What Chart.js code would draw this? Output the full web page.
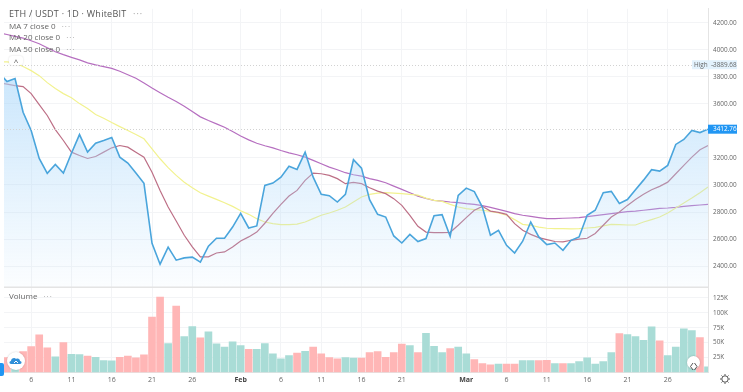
<!DOCTYPE html>
<html>
<head>
<meta charset="utf-8">
<title>ETH / USDT</title>
<script src="https://cdn.jsdelivr.net/npm/chart.js@4/dist/chart.umd.js"></script>
<style>
    html, body { margin: 0; padding: 0; background: #fff; overflow: hidden; }
    #wrap { position: relative; width: 743px; height: 392px; font-family: "Open Sans", sans-serif; }
    canvas { position: absolute; left: 0; top: 0; }
    .t { position: absolute; white-space: nowrap; color: #666; font-size: 8px; line-height: 10px; }
    .t i { font-style: normal; color: #999; margin-left: 4px; letter-spacing: 1px; }
    #title { left: 9px; top: 9px; font-size: 9px; color: #555; letter-spacing: .25px; }
    .btn { position: absolute; background: #fff; border-radius: 3px; box-shadow: 0 0 2px rgba(0,0,0,.15); text-align: center; color: #555; }
</style>
</head>
<body>
<div id="wrap">
    <canvas id="chart" width="743" height="392"></canvas>
    <div class="t" id="title">ETH / USDT · 1D · WhiteBIT <i>···</i></div>
    <div class="t" style="left:9px;top:21px">MA 7 close 0 <i>···</i></div>
    <div class="t" style="left:9px;top:32px">MA 20 close 0 <i>···</i></div>
    <div class="t" style="left:9px;top:44px">MA 50 close 0 <i>···</i></div>
    <div class="btn" style="left:9px;top:56px;width:14px;height:9px;font-size:8px;line-height:11px">^</div>
    <div class="t" style="left:9px;top:291px">Volume <i>···</i></div>
    <div style="position:absolute;left:0;top:363px;width:4px;height:13px;background:#2196f3;border-radius:0 2px 2px 0"></div>
    <div style="position:absolute;left:7px;top:352px;width:18px;height:18px;border-radius:50%;background:#fff;box-shadow:0 0 2px rgba(0,0,0,.2)">
        <svg width="18" height="18" viewBox="0 0 18 18"><path d="M4 12c-2 0-2-3 0-3 0-3 4-4 5-2 2-1 4 0 4 2 2 0 2 3 0 3z" fill="#2f8fd8"/><path d="M7 11l2-2 2 2" stroke="#fff" fill="none"/></svg>
    </div>
    <div style="position:absolute;left:687px;top:356px;width:13px;height:13px;border-radius:50%;background:#fff;box-shadow:0 0 2px rgba(0,0,0,.25)">
        <svg width="13" height="13" viewBox="0 0 13 13"><path d="M6 3L3.5 6.500L6 10M7.500 3L10 6.500L7.500 10" stroke="#555" fill="none"/></svg>
    </div>
    <svg style="position:absolute;left:719px;top:373px" width="12" height="12" viewBox="0 0 12 12">
        <circle cx="6" cy="6" r="3.200" fill="none" stroke="#555" stroke-width="1"/>
        <path d="M6 1v1.500M6 9.500V11M1 6h1.500M9.500 6H11M2.500 2.500l1 1M8.500 8.500l1 1M9.500 2.500l-1 1M3.500 8.500l-1 1" stroke="#555"/>
    </svg>
</div>
<script>
// One entry per day, Jan 2 to Mar 31
const priceValues = [
    3831, 3765, 3787, 3538, 3403, 3196, 3086, 3152, 3088, 3235, 3373, 3243, 3309, 3329, 3351,
    3206, 3162, 3088, 3012, 2569, 2414, 2540, 2444, 2461, 2466, 2429, 2547, 2606, 2606, 2689,
    2790, 2682, 2697, 2997, 3014, 3058, 3139, 3115, 3243, 3058, 2931, 2921, 2874, 2931, 3187,
    3125, 2892, 2783, 2763, 2623, 2571, 2635, 2582, 2604, 2773, 2781, 2621, 2923,
    2977, 2951, 2837, 2628, 2665, 2554, 2497, 2584, 2726, 2616, 2559, 2571, 2517, 2591, 2616,
    2776, 2813, 2943, 2953, 2864, 2892, 2965, 3036, 3113, 3103, 3145, 3300, 3337, 3403, 3388, 3412.76
];
const ma7Values = [
    3757, 3746, 3735, 3728, 3676, 3595, 3514, 3410, 3329, 3243, 3218, 3196, 3211, 3243, 3275,
    3292, 3280, 3243, 3206, 3095, 2960, 2837, 2734, 2628, 2542, 2468, 2468, 2497, 2505, 2542,
    2586, 2616, 2652, 2717, 2790, 2857, 2918, 2960, 3034, 3088, 3083, 3071, 3047, 3010, 3019,
    3010, 2980, 2955, 2936, 2899, 2849, 2776, 2694, 2652, 2648, 2648, 2650, 2702,
    2759, 2813, 2842, 2807, 2798, 2783, 2714, 2665, 2635, 2611, 2596, 2582, 2579, 2591, 2599,
    2606, 2641, 2702, 2763, 2800, 2849, 2892, 2931, 2965, 2990, 3021, 3083, 3145, 3206, 3261, 3292
];
const ma20Values = [
    3912, 3910, 3903, 3877, 3846, 3809, 3757, 3713, 3676, 3646, 3602, 3565, 3521, 3494, 3462,
    3432, 3403, 3373, 3342, 3268, 3194, 3128, 3071, 3021, 2980, 2943, 2918, 2894, 2869, 2842,
    2809, 2783, 2751, 2726, 2714, 2707, 2707, 2711, 2726, 2751, 2776, 2793, 2813, 2837, 2874,
    2911, 2931, 2940, 2943, 2940, 2936, 2931, 2925, 2903, 2886, 2879, 2857, 2837,
    2825, 2818, 2813, 2805, 2793, 2776, 2744, 2709, 2702, 2689, 2680, 2677, 2677, 2675, 2677,
    2682, 2687, 2697, 2709, 2707, 2704, 2704, 2726, 2744, 2763, 2793, 2830, 2866, 2903, 2943, 2985
];
const ma50Values = [
    4126, 4113, 4099, 4087, 4067, 4045, 4015, 3986, 3964, 3944, 3925, 3903, 3888, 3875, 3863,
    3841, 3816, 3789, 3755, 3718, 3683, 3649, 3617, 3582, 3543, 3504, 3477, 3452, 3427, 3396,
    3362, 3334, 3309, 3290, 3275, 3255, 3238, 3224, 3206, 3182, 3157, 3132, 3113, 3091, 3076,
    3066, 3047, 3034, 3017, 2992, 2968, 2943, 2918, 2901, 2886, 2881, 2874, 2869,
    2862, 2857, 2847, 2835, 2820, 2805, 2788, 2776, 2768, 2759, 2751, 2751, 2754, 2756, 2759,
    2766, 2773, 2781, 2788, 2796, 2803, 2807, 2813, 2820, 2827, 2830, 2835, 2842, 2847, 2852, 2857
];
// Volume in thousands
const volumeValues = [
    28, 25.6, 26, 35.6, 44, 63.5, 42, 26.7, 50.7, 31, 30.6, 27.9, 26, 20.6, 20,
    26, 27.9, 25, 30, 93.6, 127, 49, 112, 60.7, 77.4, 58.5, 68.5, 48.5, 43, 52,
    45.7, 39.5, 39.5, 49, 31.7, 23.4, 29, 33, 36, 43, 31.7, 25.6, 23.4, 25.6, 24.5,
    24.5, 34, 35.6, 26, 34, 48, 45.7, 34, 66, 44.6, 34, 40.7, 43,
    32, 22.3, 15.6, 13.4, 14.5, 14.5, 14.5, 20.6, 20.6, 20.6, 21, 15.6, 15.6, 15.6, 19,
    25, 14.5, 19, 34, 65.7, 64, 60.7, 54.6, 77, 53.5, 29, 43, 73.5, 70.7, 59, 10
];
const volumeSides = [
    'r', 'r', 'g', 'r', 'r', 'r', 'r', 'g', 'r', 'g', 'g', 'r', 'g', 'g', 'g',
    'r', 'r', 'r', 'r', 'r', 'r', 'g', 'r', 'g', 'g', 'r', 'g', 'g', 'g', 'g',
    'g', 'r', 'g', 'g', 'g', 'g', 'g', 'r', 'g', 'r', 'r', 'r', 'r', 'g', 'g',
    'r', 'r', 'r', 'r', 'r', 'r', 'g', 'r', 'g', 'g', 'g', 'r', 'g',
    'g', 'r', 'r', 'r', 'g', 'r', 'r', 'g', 'g', 'r', 'r', 'g', 'r', 'g', 'g',
    'g', 'g', 'g', 'g', 'r', 'g', 'g', 'g', 'g', 'r', 'g', 'g', 'g', 'g', 'r', 'g'
];
const dayIndex = priceValues.map((_, i) => i);

const xTickDays = [4, 9, 14, 19, 24, 30, 35, 40, 45, 50, 58, 63, 68, 73, 78, 83];
const xTickLabels = ['6', '11', '16', '21', '26', 'Feb', '6', '11', '16', '21', 'Mar', '6', '11', '16', '21', '26'];
const priceTicks = [2400, 2600, 2800, 3000, 3200, 3600, 3800, 4000, 4200];
const volumeTicks = [25, 50, 75, 100, 125];
const highValue = 3889.68;
const lastValue = 3412.76;

const gridColor = '#f3f4f6';
const sideColors = { r: '#ffb6b6', g: '#a9dcd6' };

// Dotted price lines, separator between panes and the two price tags
const overlayPlugin = {
    id: 'overlay',
    afterDatasetsDraw(chart) {
        const { ctx, chartArea, scales } = chart;
        const yHigh = scales.price.getPixelForValue(highValue);
        const yLast = scales.price.getPixelForValue(lastValue);
        ctx.save();
        ctx.strokeStyle = '#d2d2d2';
        ctx.lineWidth = 1;
        ctx.setLineDash([1, 2]);
        [yHigh, yLast].forEach(y => {
            ctx.beginPath();
            ctx.moveTo(chartArea.left, Math.round(y) + .5);
            ctx.lineTo(chartArea.right, Math.round(y) + .5);
            ctx.stroke();
        });
        ctx.setLineDash([]);
        ctx.strokeStyle = '#e4e4e4';
        ctx.lineWidth = 1.5;
        ctx.beginPath();
        ctx.moveTo(chartArea.left, scales.price.bottom);
        ctx.lineTo(chartArea.right, scales.price.bottom);
        ctx.stroke();

        ctx.font = '6.4px "Open Sans"';
        ctx.textBaseline = 'middle';
        ctx.fillStyle = '#e3f2fd';
        ctx.fillRect(692, yHigh - 4.5, 45, 9);
        ctx.fillStyle = '#666';
        ctx.fillText('High  –', 694, yHigh);
        ctx.fillText(highValue.toFixed(2), 713, yHigh);
        ctx.fillStyle = '#2196f3';
        ctx.fillRect(chartArea.right, yLast - 4.5, 29, 9);
        ctx.fillStyle = '#fff';
        ctx.fillText(lastValue.toFixed(2), 713, yLast);
        ctx.restore();
    }
};

function maDataset(label, data, color) {
    return { type: 'line', label, data, yAxisID: 'price', borderColor: color, borderWidth: 1.2, pointRadius: 0, fill: false, tension: 0, order: 2 };
}

new Chart(document.getElementById('chart'), {
    data: {
        labels: dayIndex,
        datasets: [
            {
                type: 'line',
                label: 'ETH / USDT',
                data: priceValues,
                yAxisID: 'price',
                borderColor: '#4aa5dc',
                borderWidth: 1.6,
                pointRadius: 0,
                tension: 0,
                order: 1,
                fill: 'start',
                backgroundColor(context) {
                    const { chartArea, scales, ctx } = context.chart;
                    if (!chartArea) return 'transparent';
                    const g = ctx.createLinearGradient(0, 60, 0, scales.price.bottom);
                    g.addColorStop(0, 'rgba(170,215,250,.65)');
                    g.addColorStop(1, 'rgba(170,215,250,.04)');
                    return g;
                }
            },
            maDataset('MA 7', ma7Values, '#bd6f86'),
            maDataset('MA 20', ma20Values, '#f2f28f'),
            maDataset('MA 50', ma50Values, '#b66fc0'),
            {
                type: 'bar',
                label: 'Volume',
                data: volumeValues,
                yAxisID: 'volume',
                backgroundColor: volumeSides.map(s => sideColors[s]),
                categoryPercentage: 1,
                barPercentage: .95,
                order: 3
            }
        ]
    },
    options: {
        responsive: false,
        animation: false,
        layout: { padding: { left: 4, top: 8, right: 0, bottom: 0 } },
        plugins: { legend: { display: false }, tooltip: { enabled: false } },
        scales: {
            x: {
                type: 'linear',
                offset: false,
                min: 0.63,
                max: 88,
                afterFit(scale) { scale.height = 19.5; },
                afterBuildTicks(scale) { scale.ticks = xTickDays.map(v => ({ value: v })); },
                grid: { color: gridColor, drawTicks: false, offset: false },
                border: { color: '#e4e4e4' },
                ticks: {
                    maxRotation: 0,
                    autoSkip: false,
                    padding: 3,
                    font: context => ({ size: 7, family: 'Open Sans', weight: isNaN(xTickLabels[context.index]) ? '700' : '400' }),
                    color: context => isNaN(xTickLabels[context.index]) ? '#444' : '#666',
                    callback: (value, index) => xTickLabels[index]
                }
            },
            price: {
                axis: 'y',
                position: 'right',
                stack: 'panes',
                stackWeight: 279,
                weight: 1,
                min: 2244,
                max: 4303,
                afterFit(scale) { scale.width = 35; },
                afterBuildTicks(scale) { scale.ticks = priceTicks.map(v => ({ value: v })); },
                grid: { color: gridColor, drawTicks: false },
                border: { color: '#e4e4e4' },
                ticks: {
                    padding: 5,
                    autoSkip: false,
                    color: '#666',
                    font: { size: 6.4, family: 'Open Sans' },
                    callback: value => value.toFixed(2)
                }
            },
            volume: {
                axis: 'y',
                position: 'right',
                stack: 'panes',
                stackWeight: 85.5,
                weight: 2,
                min: 0,
                max: 142.9,
                afterFit(scale) { scale.width = 35; },
                afterBuildTicks(scale) { scale.ticks = volumeTicks.map(v => ({ value: v })); },
                grid: { color: gridColor, drawTicks: false },
                border: { color: '#e4e4e4' },
                ticks: {
                    padding: 5,
                    autoSkip: false,
                    color: '#666',
                    font: { size: 6.4, family: 'Open Sans' },
                    callback: value => value + 'K'
                }
            }
        }
    },
    plugins: [overlayPlugin]
});
</script>
</body>
</html>
